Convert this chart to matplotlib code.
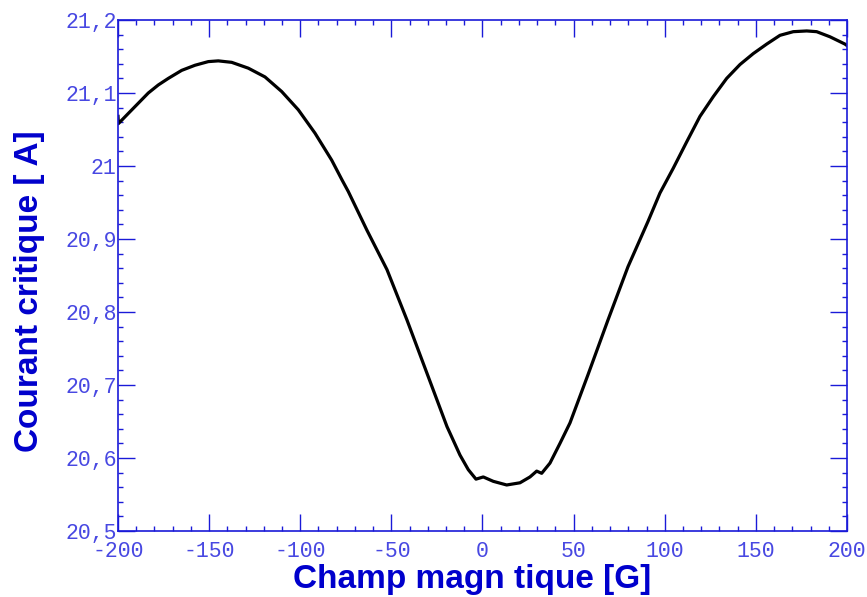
import matplotlib
matplotlib.use("Agg")
import matplotlib.pyplot as plt
from matplotlib.ticker import MultipleLocator, FixedLocator, FixedFormatter

# champ magnetique [G] et courant critique [A]
champ = [-200, -199.8, -194.35, -188.86, -183.37, -177.89, -172.40, -165.05,
         -157.75, -150.45, -144.97, -137.61, -128.50, -119.34, -110.18, -101.07,
         -91.91, -82.74, -77.1, -73.63, -63.4, -52.40, -41.43, -30.45, -19.48, -17.83,
         -12.35, -7.79, -3.57, 0.44, 5.93, 13.28, 20.58, 26.06, 29.74, 32.48,
         37.04, 42.52, 48.01, 57.89, 68.86, 79.84, 90.81, 97.39, 104.69,
         112.04, 119.34, 126.64, 133.99, 141.29, 148.59, 155.94, 163.24, 170.54,
         177.89, 183.37, 190.67, 198.90, 200]
courant = [21.068, 21.058, 21.072, 21.086, 21.100, 21.111, 21.120, 21.131,
           21.138, 21.143, 21.144, 21.142, 21.134, 21.122, 21.102, 21.077,
           21.045, 21.008, 20.981, 20.965, 20.912, 20.858, 20.789, 20.716, 20.643, 20.634,
           20.604, 20.584, 20.571, 20.574, 20.568, 20.563, 20.566, 20.574, 20.582, 20.579,
           20.593, 20.620, 20.648, 20.714, 20.789, 20.862, 20.924, 20.963, 20.997,
           21.033, 21.068, 21.095, 21.120, 21.139, 21.154, 21.167, 21.179, 21.184,
           21.185, 21.184, 21.177, 21.167, 21.165]

y_ticks = [20.5, 20.6, 20.7, 20.8, 20.9, 21.0, 21.1, 21.2]
y_labels = ["20,5", "20,6", "20,7", "20,8", "20,9", "21", "21,1", "21,2"]

axis_blue = "#1a1ad8"
tick_blue = "#4848e2"
label_blue = "#0000cc"

fig = plt.figure(figsize=(8.67, 5.97), dpi=100)
ax = fig.add_axes([0.1361, 0.1106, 0.8408, 0.8559])

ax.plot(champ, courant, color="black", lw=2.3, solid_joinstyle="round")

ax.set_xlim(-200, 200)
ax.set_ylim(20.5, 21.2)
ax.xaxis.set_major_locator(MultipleLocator(50))
ax.xaxis.set_minor_locator(MultipleLocator(10))
ax.xaxis.set_major_formatter(plt.FuncFormatter(lambda v, p: f"{v:.0f}"))
ax.yaxis.set_major_locator(FixedLocator(y_ticks))
ax.yaxis.set_major_formatter(FixedFormatter(y_labels))
ax.yaxis.set_minor_locator(MultipleLocator(0.02))

for s in ax.spines.values():
    s.set_color(axis_blue)
    s.set_linewidth(1.2)

ax.tick_params(which="both", direction="in", top=True, right=True,
               color=axis_blue, labelcolor=tick_blue)
ax.tick_params(which="major", length=12, width=1.0)
ax.tick_params(which="minor", length=3.5, width=1.0)
ax.tick_params(axis="x", which="major", pad=7)
ax.tick_params(axis="y", which="major", pad=1)

for lab in ax.get_xticklabels() + ax.get_yticklabels():
    lab.set_family("Liberation Mono")
    lab.set_fontsize(15.5)

ax.set_xlabel("Champ magn tique [G]", family="Liberation Sans", weight="bold",
              fontsize=24, color=label_blue, va="top")
ax.xaxis.set_label_coords(0.486, -0.064)
ax.set_ylabel("Courant critique [ A]", family="Liberation Sans", weight="bold",
              fontsize=24, color=label_blue)
ax.yaxis.set_label_coords(-0.100, 0.47)

fig.savefig("out.png", dpi=100)
